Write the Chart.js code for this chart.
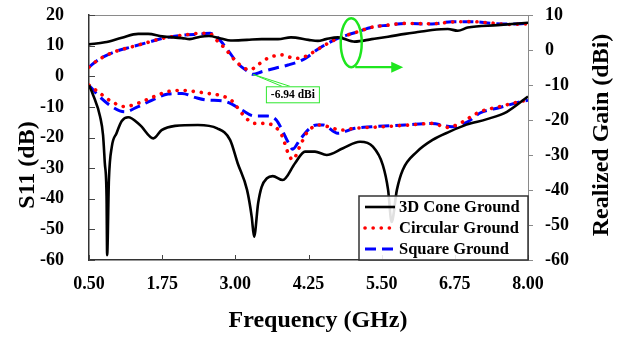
<!DOCTYPE html>
<html>
<head>
<meta charset="utf-8">
<script src="https://cdn.jsdelivr.net/npm/chart.js@4"></script>
<style>
  html, body { margin: 0; padding: 0; background: #fff; }
  canvas { display: block; }
</style>
</head>
<body>
<canvas id="myChart" width="622" height="337"></canvas>
<script>
const ctx = document.getElementById("myChart")

const xTicks = [0.5, 1.75, 3.0, 4.25, 5.5, 6.75, 8.0]
const legendNames = ['3D Cone Ground', 'Circular Ground', 'Square Ground']

// realized gain (dBi), right axis
const coneGainFreq = [0.5, 0.77, 1.06, 1.34, 1.51, 1.75, 2.09, 2.22, 2.4, 2.55, 2.75, 2.92, 3.2, 3.45, 3.73, 3.95, 4.25, 4.41, 4.55, 4.75, 5.04, 5.33, 5.61, 5.9, 6.15, 6.36, 6.63, 6.8, 6.97, 7.48, 8.0]
const coneGain = [1.6, 2.2, 3.5, 4.6, 4.6, 3.9, 3.4, 3.1, 3.8, 4.0, 3.3, 2.7, 2.9, 3.1, 3.1, 3.6, 2.9, 2.6, 3.1, 3.6, 2.4, 3.1, 3.8, 4.6, 5.2, 5.7, 6.0, 5.5, 6.4, 7.1, 7.8]

const circGainFreq = [0.5, 0.65, 0.94, 1.23, 1.51, 1.75, 2.09, 2.43, 2.57, 2.65, 2.82, 2.99, 3.16, 3.25, 3.38, 3.55, 3.79, 4.02, 4.19, 4.39, 4.58, 4.75, 4.92, 5.09, 5.33, 5.61, 5.9, 6.36, 6.7, 7.04, 7.38, 7.66, 8.0]
const circGain = [-4.9, -2.9, -0.5, 0.9, 2.2, 3.3, 4.2, 4.8, 4.7, 3.3, 0.5, -2.9, -5.2, -5.7, -4.3, -2.4, -1.4, -2.4, -1.9, 0.0, 1.9, 3.3, 4.3, 5.2, 6.5, 7.1, 7.6, 7.5, 8.0, 8.1, 7.7, 7.3, 7.5]

const squareGainFreq = [0.5, 0.65, 0.94, 1.23, 1.51, 1.75, 2.09, 2.43, 2.57, 2.68, 2.87, 3.04, 3.22, 3.3, 3.45, 3.68, 3.9, 4.14, 4.24, 4.39, 4.58, 4.75, 4.92, 5.09, 5.33, 5.61, 5.9, 6.36, 6.7, 7.04, 7.38, 7.66, 8.0]
const squareGain = [-4.9, -2.9, -0.5, 0.9, 2.2, 3.3, 4.2, 4.6, 4.8, 3.8, 0.0, -3.8, -6.2, -6.94, -6.2, -5.2, -4.3, -2.9, -1.9, 0.0, 1.9, 3.3, 4.3, 5.2, 6.5, 7.1, 7.6, 7.4, 8.1, 8.1, 7.6, 7.4, 7.6]

// S11 (dB), left axis
const coneS11Freq = [0.5, 0.57, 0.69, 0.74, 0.77, 0.8, 0.81, 0.84, 0.89, 0.97, 1.06, 1.17, 1.37, 1.6, 1.74, 1.97, 2.36, 2.69, 2.91, 3.04, 3.2, 3.28, 3.32, 3.39, 3.45, 3.54, 3.64, 3.81, 4.02, 4.19, 4.36, 4.56, 4.84, 5.13, 5.35, 5.52, 5.61, 5.67, 5.76, 5.86, 6.1, 6.37, 6.66, 6.95, 7.3, 7.64, 8.0]
const coneS11 = [-2.9, -6.1, -13.2, -19.2, -28.3, -39.3, -58.4, -33.9, -23.0, -18.6, -14.6, -13.4, -15.9, -20.3, -17.6, -16.2, -15.9, -17.0, -20.8, -28.4, -37.1, -45.9, -52.4, -41.4, -36.1, -33.3, -32.6, -33.9, -28.4, -24.6, -24.6, -25.7, -23.5, -21.4, -23.0, -29.0, -37.1, -47.6, -37.1, -30.6, -24.7, -20.8, -18.1, -15.8, -14.0, -11.6, -6.6]

const circS11Freq = [0.5, 0.65, 0.89, 1.11, 1.34, 1.58, 1.85, 2.09, 2.31, 2.53, 2.77, 2.94, 3.11, 3.22, 3.33, 3.51, 3.68, 3.8, 3.9, 3.98, 4.1, 4.22, 4.44, 4.67, 4.79, 5.04, 5.52, 5.98, 6.37, 6.61, 6.78, 7.18, 7.52, 7.86, 8.0]
const circS11 = [-2.9, -5.0, -8.3, -9.9, -8.8, -6.9, -5.0, -4.6, -5.0, -5.6, -6.4, -8.0, -12.1, -14.3, -15.4, -15.4, -16.5, -19.5, -25.0, -27.3, -23.0, -18.5, -15.9, -17.0, -17.6, -17.0, -16.5, -15.9, -15.4, -16.7, -15.9, -11.6, -9.9, -8.3, -7.8]

const squareS11Freq = [0.5, 0.65, 0.89, 1.11, 1.34, 1.58, 1.85, 2.09, 2.31, 2.53, 2.77, 2.94, 3.11, 3.33, 3.55, 3.7, 3.8, 3.9, 3.98, 4.1, 4.27, 4.39, 4.5, 4.75, 5.04, 5.33, 5.9, 6.36, 6.7, 6.97, 7.18, 7.52, 7.86, 8.0]
const squareS11 = [-2.9, -6.1, -9.9, -11.6, -9.9, -7.8, -5.8, -5.6, -6.9, -7.8, -8.0, -9.1, -11.0, -13.0, -13.0, -14.3, -17.6, -21.5, -23.8, -20.8, -17.0, -15.9, -15.9, -18.6, -17.0, -16.5, -15.9, -15.4, -16.5, -14.9, -12.0, -10.2, -8.4, -7.8]

const minGain = Math.min(...squareGain)
const minGainFreq = squareGainFreq[squareGain.indexOf(minGain)]

const serif = '"Liberation Serif", "Times New Roman", serif'

const pts = (xs, ys) => xs.map((x, i) => ({x: x, y: ys[i]}))

const styles = [
    {borderColor: '#000000', borderWidth: 2.6, borderDash: [], borderCapStyle: 'butt'},
    {borderColor: '#ff0000', borderWidth: 3.6, borderDash: [0.1, 8], borderCapStyle: 'round'},
    {borderColor: '#0000ff', borderWidth: 3, borderDash: [11, 6], borderCapStyle: 'butt'}
]

function series(label, xs, ys, style, axis) {
    return Object.assign({
        label: label,
        data: pts(xs, ys),
        yAxisID: axis,
        fill: false,
        pointRadius: 0,
        cubicInterpolationMode: 'monotone'
    }, style)
}

const datasets = [
    series(legendNames[0], coneS11Freq, coneS11, styles[0], 'y'),
    series(legendNames[0], coneGainFreq, coneGain, styles[0], 'y1'),
    series(legendNames[1], circS11Freq, circS11, styles[1], 'y'),
    series(legendNames[1], circGainFreq, circGain, styles[1], 'y1'),
    series(legendNames[2], squareS11Freq, squareS11, styles[2], 'y'),
    series(legendNames[2], squareGainFreq, squareGain, styles[2], 'y1')
]

function line(c, x1, y1, x2, y2) {
    c.beginPath(); c.moveTo(x1, y1); c.lineTo(x2, y2); c.stroke()
}

// vertical axes: fixed width, no extra room reserved for the end labels
function fixWidth(w) {
    return s => {
        s.width = w
        s.paddingTop = 0
        s.paddingBottom = 0
    }
}

// titles, inner ticks, frame, callouts and the boxed legend
const decorations = {
    id: 'decorations',
    afterDraw(chart) {
        const c = chart.ctx
        const a = chart.chartArea
        const {x, y, y1} = chart.scales
        c.save()

        c.strokeStyle = '#8a8a8a'
        c.lineWidth = 1
        line(c, a.left, a.top + 0.5, a.right, a.top + 0.5)

        c.strokeStyle = '#444'
        xTicks.forEach(v => {
            const px = Math.round(x.getPixelForValue(v)) + 0.5
            line(c, px, a.bottom, px, a.bottom - 5)
        })
        y.ticks.forEach(t => {
            const py = Math.round(y.getPixelForValue(t.value)) + 0.5
            line(c, a.left, py, a.left + 6, py)
        })

        // axis titles
        c.fillStyle = '#000'
        c.font = 'bold 24px ' + serif
        c.textAlign = 'center'
        c.textBaseline = 'alphabetic'
        c.fillText('Frequency (GHz)', 318, 327)
        c.save()
        c.translate(34, 165)
        c.rotate(-Math.PI / 2)
        c.fillText('S11 (dB)', 0, 0)
        c.restore()
        c.save()
        c.translate(608, 135)
        c.rotate(-Math.PI / 2)
        c.fillText('Realized Gain (dBi)', 0, 0)
        c.restore()

        // gain minimum callout
        const mx = x.getPixelForValue(minGainFreq)
        const my = y1.getPixelForValue(minGain)
        const bx = mx + 13, by = my + 12, bw = 53, bh = 16
        c.strokeStyle = '#2ee82e'
        c.lineWidth = 1
        line(c, mx, my, bx + 16, by)
        line(c, mx, my, bx + 24, by)
        c.fillStyle = '#fff'
        c.fillRect(bx, by, bw, bh)
        c.strokeRect(bx + 0.5, by + 0.5, bw, bh)
        c.fillStyle = '#000'
        c.font = 'bold 11.5px ' + serif
        c.textAlign = 'center'
        c.textBaseline = 'middle'
        c.fillText(minGain.toFixed(2) + ' dBi', bx + bw / 2 + 0.5, by + bh / 2 + 1)

        // ellipse marking the gain curves, arrow to the right axis
        const ex = x.getPixelForValue(4.98)
        const ey = y1.getPixelForValue(2.1)
        c.strokeStyle = '#1ee61e'
        c.lineWidth = 2.5
        c.beginPath()
        c.ellipse(ex, ey, 10.5, 24.5, 0, 0, Math.PI * 2)
        c.stroke()
        c.lineWidth = 2.2
        line(c, ex + 4, ey + 24.5, ex + 44, ey + 24.5)
        c.fillStyle = '#1ee61e'
        c.beginPath()
        c.moveTo(ex + 52, ey + 24.5)
        c.lineTo(ex + 40, ey + 19)
        c.lineTo(ex + 40, ey + 30)
        c.closePath()
        c.fill()

        // legend box in the lower right corner
        const lw = 169, lh = 64
        const lx = a.right - lw, ly = a.bottom - lh
        c.fillStyle = 'rgba(255,255,255,0.88)'
        c.fillRect(lx, ly, lw, lh)
        c.strokeStyle = '#333'
        c.lineWidth = 1.5
        c.strokeRect(lx, ly, lw, lh)
        c.font = 'bold 16.5px ' + serif
        c.textAlign = 'left'
        c.textBaseline = 'middle'
        legendNames.forEach((name, i) => {
            const s = styles[i]
            const ry = ly + 11 + i * 21
            c.strokeStyle = s.borderColor
            c.lineWidth = s.borderWidth
            c.lineCap = s.borderCapStyle
            c.setLineDash(s.borderDash)
            line(c, lx + 6, ry, lx + 36, ry)
            c.setLineDash([])
            c.lineCap = 'butt'
            c.fillStyle = '#000'
            c.fillText(name, lx + 40, ry + 1)
        })
        c.restore()
    }
}

const tickFont = {family: serif, size: 18, weight: 'bold'}

const chart = new Chart(ctx, {
    type: 'line',
    data: {datasets: datasets},
    options: {
        responsive: false,
        animation: false,
        devicePixelRatio: 1,
        layout: {padding: {top: 15, left: 0, right: 0, bottom: 0}},
        plugins: {legend: {display: false}, tooltip: {enabled: false}},
        scales: {
            x: {
                type: 'linear',
                min: 0.5,
                max: 8,
                afterBuildTicks: s => { s.ticks = xTicks.map(v => ({value: v})) },
                afterFit: s => { s.height = 77 },
                ticks: {callback: v => v.toFixed(2), font: tickFont, color: '#000', padding: 6, maxRotation: 0, autoSkip: false},
                grid: {display: false},
                border: {color: '#333', width: 1.5}
            },
            y: {
                position: 'left',
                min: -60,
                max: 20,
                ticks: {stepSize: 10, font: tickFont, color: '#000', padding: 17},
                afterFit: fixWidth(89),
                grid: {display: false},
                border: {color: '#333', width: 1.5}
            },
            y1: {
                position: 'right',
                min: -60,
                max: 10,
                ticks: {stepSize: 10, font: tickFont, color: '#000', padding: 12},
                afterFit: fixWidth(94),
                grid: {drawOnChartArea: false, drawTicks: true, tickLength: 5, color: '#8a8a8a'},
                border: {color: '#8a8a8a', width: 1}
            }
        }
    },
    plugins: [decorations]
})
</script>
</body>
</html>
